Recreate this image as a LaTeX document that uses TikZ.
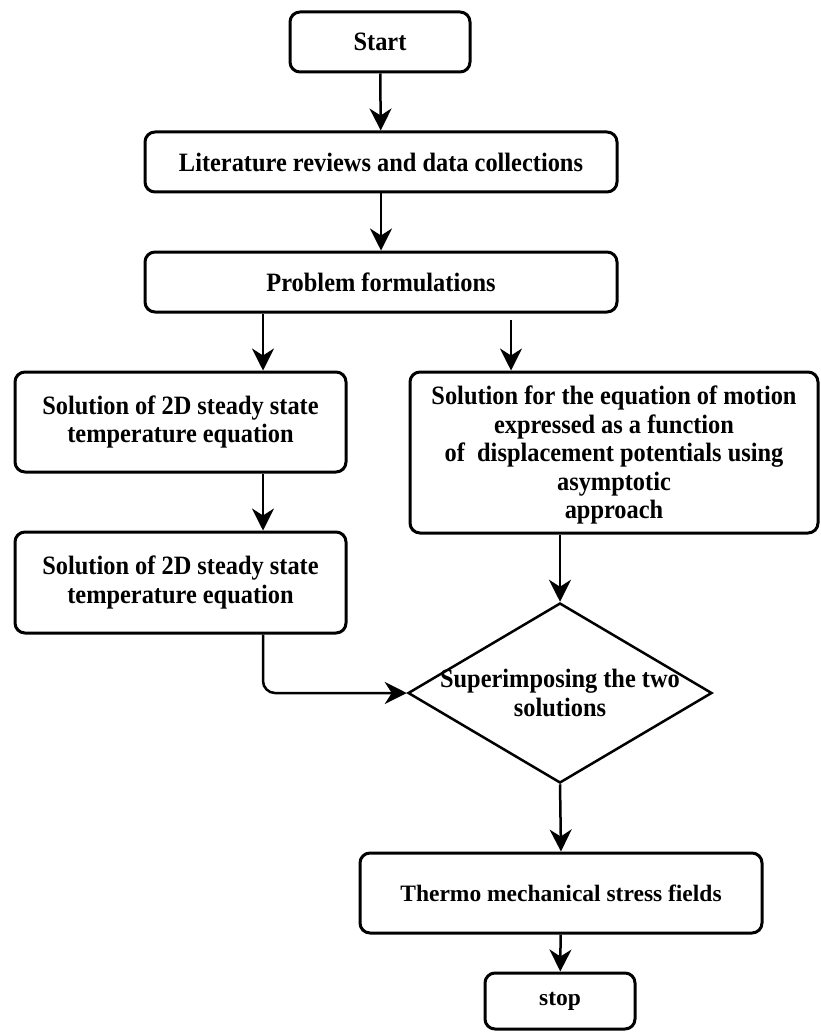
\documentclass[tikz,border=0pt]{standalone}
\usepackage{fontspec}
\usetikzlibrary{shapes.geometric,arrows.meta}
\newfontfamily\flowfont{Liberation Serif}[FakeStretch=0.92]
\newfontfamily\endfont{Liberation Serif}

\begin{document}
\begin{tikzpicture}
        [x=1pt, y=-1pt,
        box/.style={draw, rounded corners=10pt, line width=3pt, inner sep=0pt, align=center,
                    font=\flowfont\bfseries\fontsize{26.5}{28.5}\selectfont},
        endbox/.style={box, font=\endfont\bfseries\fontsize{23.5}{27}\selectfont},
        decision/.style={diamond, draw, line width=2.5pt, inner sep=0pt,
                         minimum width=304pt, minimum height=180pt},
        arr/.style={line width=2.5pt, -{Stealth[length=22pt, width=22pt, inset=7pt]}}]

        \useasboundingbox (0,0) rectangle (820,1032);

        \node[box, minimum width=180pt, minimum height=60pt] (start) at (380,42) {Start};
        \node[box, minimum width=472pt, minimum height=60pt] (lit) at (381,162) {Literature reviews and data collections};
        \node[box, minimum width=472pt, minimum height=60pt] (prob) at (381,282) {Problem formulations};
        \node[box, minimum width=331pt, minimum height=100pt] (sol1) at (180.5,422) {Solution of 2D steady state\\temperature equation};
        \node[box, minimum width=331pt, minimum height=101pt] (sol2) at (180.5,582.5) {Solution of 2D steady state\\temperature equation};
        \node[box, minimum width=408pt, minimum height=161pt, text depth=-10pt] (mot) at (614,452.5)
            {Solution for the equation of motion\\expressed as a function\\of~ displacement potentials using\\asymptotic\\approach};
        \node[decision, label={[font=\flowfont\bfseries\fontsize{26.5}{28.5}\selectfont, align=center]center:Superimposing the two\\solutions}] (sup) at (560,693) {};
        \node[endbox, minimum width=402pt, minimum height=80pt] (thermo) at (561,893) {Thermo mechanical stress fields};
        \node[endbox, minimum width=150pt, minimum height=56pt] (stop) at (560,1001) {stop};

        % lanes for the two branches
        \coordinate (lane) at (263,312);
        \coordinate (pf) at (511,320);

        % main line
        \draw[arr] (start) -- (lit);
        \draw[arr] (lit) -- (prob);
        \draw[arr] (prob.south -| lane) -- (sol1.north -| lane);
        \draw[arr] (pf) -- (mot.north -| pf);
        \draw[arr] (sol1.south -| lane) -- (sol2.north -| lane);
        \draw[arr] (mot.south -| sup.north) -- (sup.north);
        \draw[arr, rounded corners=12pt] (sol2.south -| lane) |- (sup.west);
        \draw[arr] (sup.south) -- (thermo.north);
        \draw[arr] (thermo) -- (stop);

\end{tikzpicture}
\end{document}
